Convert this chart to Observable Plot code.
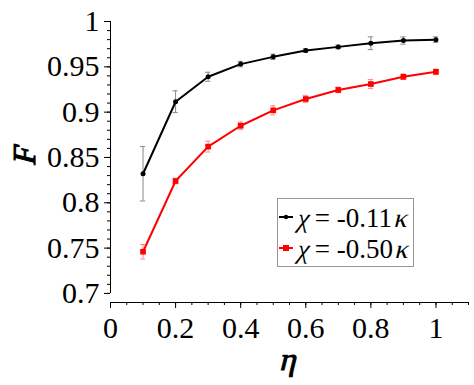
<!DOCTYPE html>
<html><head><meta charset="utf-8">
<script src="https://cdn.jsdelivr.net/npm/d3@7"></script>
<script src="https://cdn.jsdelivr.net/npm/@observablehq/plot@0.6"></script>
<style>body{margin:0;background:#fff}</style>
</head><body><div id="chart"></div>
<script>
const eta = [0.1, 0.2, 0.3, 0.4, 0.5, 0.6, 0.7, 0.8, 0.9, 1.0];
const F_a = [0.832, 0.9115, 0.939, 0.953, 0.961, 0.968, 0.972, 0.976, 0.979, 0.980];
const err_a = [0.030, 0.012, 0.005, 0.003, 0.003, 0.002, 0.002, 0.007, 0.004, 0.003];
const F_b = [0.746, 0.824, 0.862, 0.885, 0.902, 0.9145, 0.9245, 0.931, 0.939, 0.9445];
const err_b = [0.008, 0.003, 0.006, 0.004, 0.005, 0.004, 0.003, 0.005, 0.003, 0.003];
const labelA = "-0.11";
const labelB = "-0.50";
const xTicks = [0, 0.2, 0.4, 0.6, 0.8, 1];
const yTicks = [0.7, 0.75, 0.8, 0.85, 0.9, 0.95, 1];

const A = eta.map((x, i) => ({x, y: F_a[i], e: err_a[i]}));
const B = eta.map((x, i) => ({x, y: F_b[i], e: err_b[i]}));
const xMinor = d3.range(0, 23).map(i => i * 0.05);
const yMinor = d3.range(70, 101).map(i => i / 100);
const cap = 0.008;
const FF = "Liberation Serif";

const svg = Plot.plot({
  width: 474, height: 385,
  marginLeft: 110, marginRight: 6, marginTop: 21, marginBottom: 83,
  style: {fontFamily: FF, fontSize: "30px"},
  x: {domain: [0, 1.1]},
  y: {domain: [0.69, 1]},
  marks: [
    Plot.ruleX([0], {y1: 0.7, y2: 1, stroke: "#000"}),
    Plot.ruleY([0.69], {x1: 0, x2: 1.1, stroke: "#000"}),
    Plot.axisY({ticks: yMinor, tickSize: 3, tickFormat: null, label: null, text: null}),
    Plot.axisY({ticks: yTicks, tickSize: 6, tickPadding: 5, tickFormat: d3.format("~g"), label: null, fontSize: 30}),
    Plot.axisX({ticks: xMinor, tickSize: 3, label: null, text: null}),
    Plot.axisX({ticks: xTicks, tickSize: 6, tickPadding: 8, tickFormat: d3.format("~g"), label: null, fontSize: 30}),
    Plot.ruleX(A, {x: "x", y1: d => d.y - d.e, y2: d => d.y + d.e, stroke: "#888"}),
    Plot.ruleY(A, {y: d => d.y - d.e, x1: d => d.x - cap, x2: d => d.x + cap, stroke: "#888"}),
    Plot.ruleY(A, {y: d => d.y + d.e, x1: d => d.x - cap, x2: d => d.x + cap, stroke: "#888"}),
    Plot.ruleX(B, {x: "x", y1: d => d.y - d.e, y2: d => d.y + d.e, stroke: "#ff8a8a"}),
    Plot.ruleY(B, {y: d => d.y - d.e, x1: d => d.x - cap, x2: d => d.x + cap, stroke: "#ff8a8a"}),
    Plot.ruleY(B, {y: d => d.y + d.e, x1: d => d.x - cap, x2: d => d.x + cap, stroke: "#ff8a8a"}),
    Plot.line(A, {x: "x", y: "y", stroke: "#000", strokeWidth: 2}),
    Plot.dot(A, {x: "x", y: "y", r: 2.5, fill: "#000"}),
    Plot.line(B, {x: "x", y: "y", stroke: "#ff0000", strokeWidth: 2}),
    Plot.dot(B, {x: "x", y: "y", symbol: "square", r: 3.2, fill: "#ff0000"})
  ]
});
document.getElementById("chart").appendChild(svg);
const s = d3.select(svg);

// regular-face text only; italic by skew, bold by stroke
function put(parent, str, x, y, size, opts = {}) {
  const g = parent.append("g").attr("transform", `translate(${x},${y})${opts.rotate ? ` rotate(${opts.rotate})` : ""}${opts.italic ? " skewX(-14)" : ""}`);
  const t = g.append("text").attr("font-family", FF).attr("font-size", size)
    .attr("text-anchor", opts.anchor || "start").attr("fill", "#000").text(str);
  if (opts.bold) t.attr("stroke", "#000").attr("stroke-width", 1.1).attr("stroke-linejoin", "round");
  return t.node().getComputedTextLength();
}

put(s, "F", 35, 157, 32, {rotate: -90, italic: true, bold: true, anchor: "middle"});
put(s, "η", 287, 370, 32, {italic: true, bold: true, anchor: "middle"});

const lg = s.append("g");
lg.append("rect").attr("x", 277.5).attr("y", 198.5).attr("width", 136).attr("height", 68)
  .attr("fill", "#fff").attr("stroke", "#999");
const rows = [
  {label: labelA, color: "#000", sym: "circle", y: 217},
  {label: labelB, color: "#ff0000", sym: "square", y: 248}
];
rows.forEach(r => {
  lg.append("line").attr("x1", 279).attr("x2", 293).attr("y1", r.y).attr("y2", r.y)
    .attr("stroke", r.color).attr("stroke-width", 2);
  if (r.sym === "circle") lg.append("circle").attr("cx", 286).attr("cy", r.y).attr("r", 2.2).attr("fill", r.color);
  else lg.append("rect").attr("x", 283).attr("y", r.y - 3).attr("width", 6).attr("height", 6).attr("fill", r.color);
  let x = 296;
  const base = r.y + 10;
  x += put(lg, "χ", x, base, 27, {italic: true});
  x += put(lg, "\u00a0=\u00a0" + r.label, x, base, 27);
  put(lg, "κ", x + 1, base, 27, {italic: true});
});
</script>
</body></html>
